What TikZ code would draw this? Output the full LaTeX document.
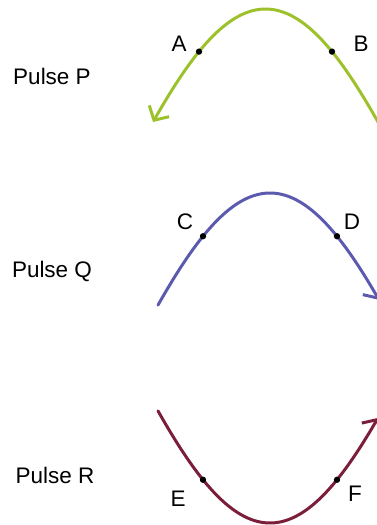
\documentclass[tikz,border=0pt]{standalone}
\usepackage{fontspec}
\setmainfont{Liberation Sans}
\usetikzlibrary{arrows.meta}
\definecolor{pgreen}{HTML}{9DC12B}
\definecolor{qblue}{HTML}{5C5AAE}
\definecolor{rred}{HTML}{7B1E3A}
\begin{document}
\begin{tikzpicture}[x=0.02cm,y=-0.02cm,
  declare function={bump(\d)=183*(1-cos(0.6*\d));},
  every node/.style={font=\fontsize{12.8}{15}\selectfont},
  dot/.style={circle,fill,inner sep=0pt,minimum size=3.6pt},
  pulse/.style={line width=1.7pt,samples=90,line cap=round},
  barb/.tip={Straight Barb[length=6pt,width=13pt,line width=1.7pt]}]
\useasboundingbox (0,0) rectangle (377,525);
% pulse P
\node (labP) at (52,76) {Pulse P};
\draw[pulse,pgreen,barb-] plot[domain=153:381] (\x,{9+bump(\x-265.5)});
\node[dot] (A) at (199,{9+bump(66.5)}) {};
\node[dot] (B) at (332,{9+bump(66.5)}) {};
\node (labA) at (179,44) {A};
\node (labB) at (361,44) {B};
% pulse Q
\node (labQ) at (52,271) {Pulse Q};
\draw[pulse,qblue,-barb] plot[domain=158:379] (\x,{193+bump(\x-270)});
\node[dot] (C) at (203,{193+bump(67)}) {};
\node[dot] (D) at (337,{193+bump(67)}) {};
\node (labC) at (185,222) {C};
\node (labD) at (352,222) {D};
% pulse R
\node (labR) at (55,475) {Pulse R};
\draw[pulse,rred,-barb] plot[domain=158:378] (\x,{523-bump(\x-270)});
\node[dot] (E) at (203,{523-bump(67)}) {};
\node[dot] (F) at (337,{523-bump(67)}) {};
\node (labE) at (178,499) {E};
\node (labF) at (355,494) {F};
\end{tikzpicture}
\end{document}
